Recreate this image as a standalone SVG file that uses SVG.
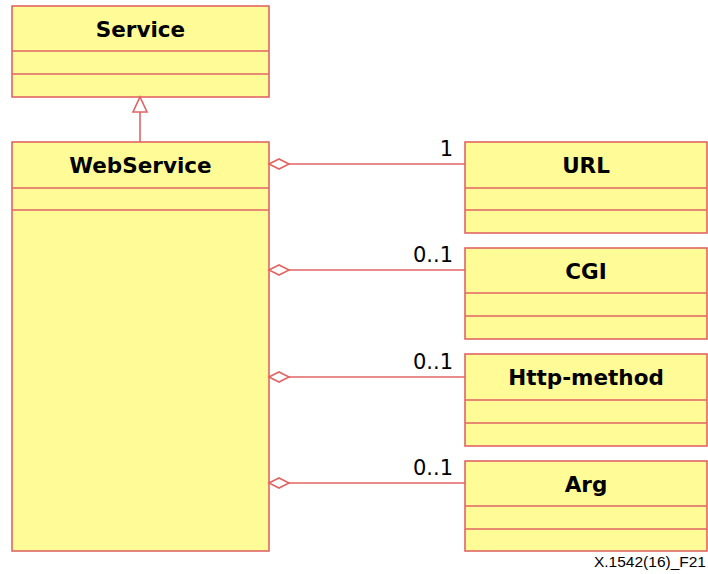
<svg xmlns="http://www.w3.org/2000/svg" width="708" height="574" viewBox="0 0 708 574">
<style>
.box{fill:#FFFC98;stroke:#E06464;stroke-width:1.6}
.div{stroke:#E06464;stroke-width:1.6;fill:none}
.t{font-family:"DejaVu Sans",Verdana,sans-serif;font-weight:bold;font-size:21.5px;fill:#000;text-anchor:middle}
.m{font-family:"DejaVu Sans",Verdana,sans-serif;font-size:21px;fill:#000;text-anchor:end}
.ln{stroke:#E06464;stroke-width:1.6;fill:none}
.dia{fill:#fff;stroke:#E06464;stroke-width:1.6}
</style>
<rect width="708" height="574" fill="#fff"/>
<g id="Service">
<rect class="box" x="12" y="6" width="257" height="91"/>
<path class="div" d="M12 51H269M12 74H269"/>
<text class="t" x="140.5" y="37">Service</text>
</g>
<g id="WebService">
<rect class="box" x="12" y="142" width="257" height="409"/>
<path class="div" d="M12 188H269M12 210H269"/>
<text class="t" x="140.5" y="173">WebService</text>
</g>
<g id="URL">
<rect class="box" x="465" y="142" width="242" height="91"/>
<path class="div" d="M465 188H707M465 210H707"/>
<text class="t" x="586" y="173">URL</text>
</g>
<g id="CGI">
<rect class="box" x="465" y="248" width="242" height="91"/>
<path class="div" d="M465 293H707M465 316H707"/>
<text class="t" x="586" y="279">CGI</text>
</g>
<g id="Http-method">
<rect class="box" x="465" y="354" width="242" height="92"/>
<path class="div" d="M465 400H707M465 423H707"/>
<text class="t" x="586" y="385">Http-method</text>
</g>
<g id="Arg">
<rect class="box" x="465" y="461" width="242" height="90"/>
<path class="div" d="M465 506H707M465 529H707"/>
<text class="t" x="586" y="492">Arg</text>
</g>
<g id="connectors">
<path class="ln" d="M140 112V142"/>
<path class="dia" d="M140 97L147 112H133Z"/>
<path class="ln" d="M289 164H465"/>
<path class="dia" d="M269 164L279 159L289 164L279 169Z"/>
<path class="ln" d="M289 270H465"/>
<path class="dia" d="M269 270L279 265L289 270L279 275Z"/>
<path class="ln" d="M289 377H465"/>
<path class="dia" d="M269 377L279 372L289 377L279 382Z"/>
<path class="ln" d="M289 483H465"/>
<path class="dia" d="M269 483L279 478L289 483L279 488Z"/>
<text class="m" x="453" y="156">1</text>
<text class="m" x="453" y="262">0..1</text>
<text class="m" x="453" y="369">0..1</text>
<text class="m" x="453" y="475">0..1</text>
</g>
<text x="706" y="567" text-anchor="end" font-family="Liberation Sans,Arial,sans-serif" font-size="15.5" fill="#000">X.1542(16)_F21</text>
</svg>
